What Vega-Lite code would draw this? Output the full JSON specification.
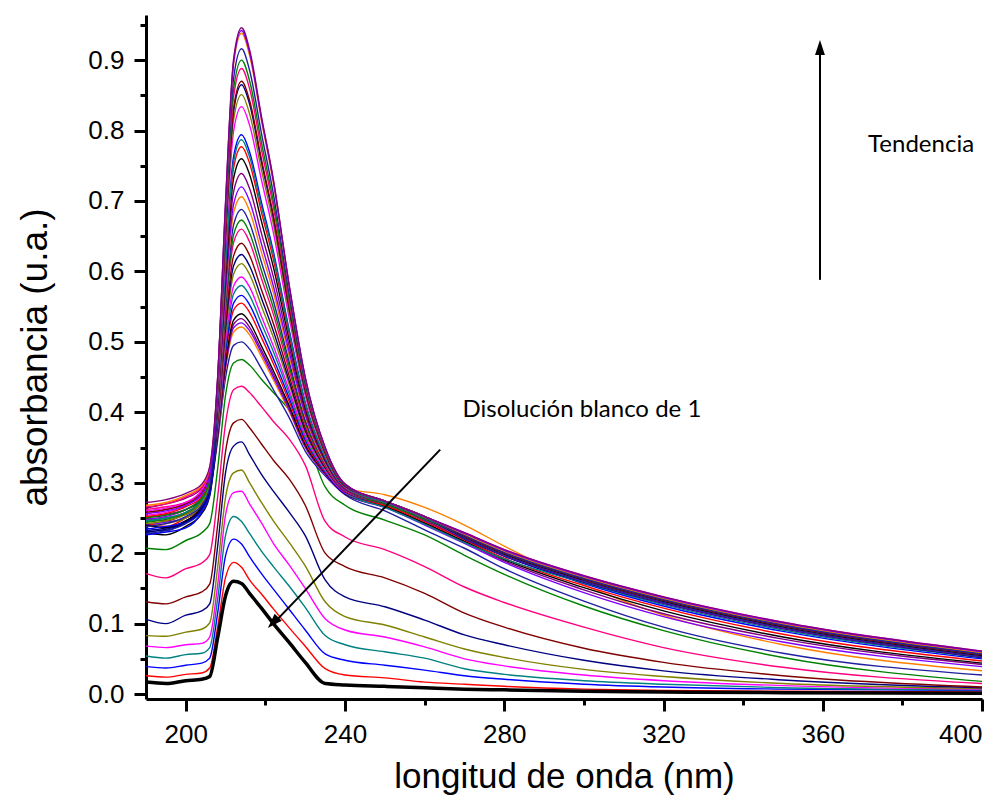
{
"$schema":"https://vega.github.io/schema/vega-lite/v6.json",
"width":836,"height":684,"autosize":"none",
"padding":{"left":146,"top":15,"right":26,"bottom":105},
"background":"white",
"config":{"view":{"stroke":null},"axis":{"domainColor":"black","tickColor":"black","domainWidth":3,"tickWidth":3,"labelColor":"black","titleColor":"black","labelFont":"Liberation Sans","titleFont":"Liberation Sans","labelFontSize":26,"titleFontSize":35,"titleFontWeight":"normal","grid":false}},
"datasets":{
"spec":[
{"c":1,"x":190,"y":0.017},{"c":1,"x":195,"y":0.015},{"c":1,"x":200,"y":0.019},{"c":1,"x":204,"y":0.021},{"c":1,"x":206,"y":0.025},{"c":1,"x":208,"y":0.080},{"c":1,"x":210,"y":0.140},{"c":1,"x":212,"y":0.160},{"c":1,"x":214,"y":0.157},{"c":1,"x":216,"y":0.143},{"c":1,"x":219,"y":0.122},{"c":1,"x":222,"y":0.100},{"c":1,"x":226,"y":0.073},{"c":1,"x":230,"y":0.045},{"c":1,"x":235,"y":0.015},{"c":1,"x":240,"y":0.013},{"c":1,"x":250,"y":0.011},{"c":1,"x":260,"y":0.009},{"c":1,"x":270,"y":0.007},{"c":1,"x":280,"y":0.006},{"c":1,"x":300,"y":0.004},{"c":1,"x":320,"y":0.003},{"c":1,"x":350,"y":0.002},{"c":1,"x":400,"y":0.001},
{"c":2,"x":190,"y":0.026},{"c":2,"x":195,"y":0.024},{"c":2,"x":200,"y":0.028},{"c":2,"x":204,"y":0.030},{"c":2,"x":206,"y":0.037},{"c":2,"x":208,"y":0.095},{"c":2,"x":210,"y":0.166},{"c":2,"x":212,"y":0.187},{"c":2,"x":214,"y":0.180},{"c":2,"x":216,"y":0.162},{"c":2,"x":219,"y":0.142},{"c":2,"x":222,"y":0.121},{"c":2,"x":226,"y":0.094},{"c":2,"x":230,"y":0.068},{"c":2,"x":235,"y":0.036},{"c":2,"x":240,"y":0.027},{"c":2,"x":250,"y":0.023},{"c":2,"x":260,"y":0.017},{"c":2,"x":270,"y":0.014},{"c":2,"x":280,"y":0.011},{"c":2,"x":300,"y":0.007},{"c":2,"x":320,"y":0.005},{"c":2,"x":350,"y":0.004},{"c":2,"x":400,"y":0.003},
{"c":3,"x":190,"y":0.039},{"c":3,"x":195,"y":0.037},{"c":3,"x":200,"y":0.041},{"c":3,"x":204,"y":0.044},{"c":3,"x":206,"y":0.051},{"c":3,"x":208,"y":0.115},{"c":3,"x":210,"y":0.197},{"c":3,"x":212,"y":0.220},{"c":3,"x":214,"y":0.213},{"c":3,"x":216,"y":0.195},{"c":3,"x":219,"y":0.171},{"c":3,"x":222,"y":0.149},{"c":3,"x":226,"y":0.120},{"c":3,"x":230,"y":0.091},{"c":3,"x":235,"y":0.057},{"c":3,"x":240,"y":0.048},{"c":3,"x":250,"y":0.041},{"c":3,"x":260,"y":0.034},{"c":3,"x":270,"y":0.026},{"c":3,"x":280,"y":0.021},{"c":3,"x":300,"y":0.014},{"c":3,"x":320,"y":0.010},{"c":3,"x":350,"y":0.007},{"c":3,"x":400,"y":0.005},
{"c":4,"x":190,"y":0.054},{"c":4,"x":195,"y":0.051},{"c":4,"x":200,"y":0.056},{"c":4,"x":204,"y":0.058},{"c":4,"x":206,"y":0.066},{"c":4,"x":208,"y":0.135},{"c":4,"x":210,"y":0.226},{"c":4,"x":212,"y":0.252},{"c":4,"x":214,"y":0.245},{"c":4,"x":216,"y":0.228},{"c":4,"x":219,"y":0.203},{"c":4,"x":222,"y":0.181},{"c":4,"x":226,"y":0.153},{"c":4,"x":230,"y":0.123},{"c":4,"x":235,"y":0.083},{"c":4,"x":240,"y":0.070},{"c":4,"x":250,"y":0.060},{"c":4,"x":260,"y":0.051},{"c":4,"x":270,"y":0.036},{"c":4,"x":280,"y":0.028},{"c":4,"x":300,"y":0.019},{"c":4,"x":320,"y":0.014},{"c":4,"x":350,"y":0.009},{"c":4,"x":400,"y":0.006},
{"c":5,"x":190,"y":0.068},{"c":5,"x":195,"y":0.066},{"c":5,"x":200,"y":0.070},{"c":5,"x":204,"y":0.072},{"c":5,"x":206,"y":0.081},{"c":5,"x":208,"y":0.155},{"c":5,"x":210,"y":0.255},{"c":5,"x":212,"y":0.286},{"c":5,"x":214,"y":0.288},{"c":5,"x":216,"y":0.270},{"c":5,"x":219,"y":0.243},{"c":5,"x":222,"y":0.214},{"c":5,"x":226,"y":0.183},{"c":5,"x":230,"y":0.150},{"c":5,"x":235,"y":0.107},{"c":5,"x":240,"y":0.091},{"c":5,"x":250,"y":0.081},{"c":5,"x":260,"y":0.067},{"c":5,"x":270,"y":0.050},{"c":5,"x":280,"y":0.040},{"c":5,"x":300,"y":0.027},{"c":5,"x":320,"y":0.019},{"c":5,"x":350,"y":0.012},{"c":5,"x":400,"y":0.007},
{"c":6,"x":190,"y":0.083},{"c":6,"x":195,"y":0.082},{"c":6,"x":200,"y":0.088},{"c":6,"x":204,"y":0.092},{"c":6,"x":206,"y":0.101},{"c":6,"x":208,"y":0.180},{"c":6,"x":210,"y":0.280},{"c":6,"x":212,"y":0.314},{"c":6,"x":214,"y":0.318},{"c":6,"x":216,"y":0.300},{"c":6,"x":219,"y":0.272},{"c":6,"x":222,"y":0.246},{"c":6,"x":226,"y":0.215},{"c":6,"x":230,"y":0.182},{"c":6,"x":235,"y":0.131},{"c":6,"x":240,"y":0.110},{"c":6,"x":250,"y":0.098},{"c":6,"x":260,"y":0.081},{"c":6,"x":270,"y":0.064},{"c":6,"x":280,"y":0.052},{"c":6,"x":300,"y":0.035},{"c":6,"x":320,"y":0.025},{"c":6,"x":350,"y":0.015},{"c":6,"x":400,"y":0.008},
{"c":7,"x":190,"y":0.106},{"c":7,"x":195,"y":0.100},{"c":7,"x":200,"y":0.112},{"c":7,"x":204,"y":0.118},{"c":7,"x":206,"y":0.128},{"c":7,"x":208,"y":0.210},{"c":7,"x":210,"y":0.315},{"c":7,"x":212,"y":0.352},{"c":7,"x":214,"y":0.358},{"c":7,"x":216,"y":0.340},{"c":7,"x":219,"y":0.312},{"c":7,"x":222,"y":0.288},{"c":7,"x":226,"y":0.258},{"c":7,"x":230,"y":0.225},{"c":7,"x":235,"y":0.162},{"c":7,"x":240,"y":0.138},{"c":7,"x":250,"y":0.124},{"c":7,"x":260,"y":0.105},{"c":7,"x":270,"y":0.084},{"c":7,"x":280,"y":0.070},{"c":7,"x":300,"y":0.048},{"c":7,"x":320,"y":0.033},{"c":7,"x":350,"y":0.020},{"c":7,"x":400,"y":0.009},
{"c":8,"x":190,"y":0.131},{"c":8,"x":195,"y":0.128},{"c":8,"x":200,"y":0.138},{"c":8,"x":204,"y":0.145},{"c":8,"x":206,"y":0.156},{"c":8,"x":208,"y":0.240},{"c":8,"x":210,"y":0.345},{"c":8,"x":212,"y":0.385},{"c":8,"x":214,"y":0.390},{"c":8,"x":216,"y":0.378},{"c":8,"x":219,"y":0.355},{"c":8,"x":222,"y":0.332},{"c":8,"x":226,"y":0.305},{"c":8,"x":230,"y":0.268},{"c":8,"x":235,"y":0.200},{"c":8,"x":240,"y":0.181},{"c":8,"x":250,"y":0.165},{"c":8,"x":260,"y":0.143},{"c":8,"x":270,"y":0.115},{"c":8,"x":280,"y":0.095},{"c":8,"x":300,"y":0.065},{"c":8,"x":320,"y":0.045},{"c":8,"x":350,"y":0.026},{"c":8,"x":400,"y":0.010},
{"c":9,"x":190,"y":0.171},{"c":9,"x":195,"y":0.165},{"c":9,"x":200,"y":0.178},{"c":9,"x":204,"y":0.186},{"c":9,"x":206,"y":0.198},{"c":9,"x":208,"y":0.280},{"c":9,"x":210,"y":0.385},{"c":9,"x":212,"y":0.432},{"c":9,"x":214,"y":0.437},{"c":9,"x":216,"y":0.428},{"c":9,"x":219,"y":0.408},{"c":9,"x":222,"y":0.387},{"c":9,"x":226,"y":0.362},{"c":9,"x":230,"y":0.325},{"c":9,"x":235,"y":0.245},{"c":9,"x":240,"y":0.223},{"c":9,"x":250,"y":0.205},{"c":9,"x":260,"y":0.181},{"c":9,"x":270,"y":0.152},{"c":9,"x":280,"y":0.130},{"c":9,"x":300,"y":0.095},{"c":9,"x":320,"y":0.066},{"c":9,"x":350,"y":0.038},{"c":9,"x":400,"y":0.015},
{"c":10,"x":190,"y":0.207},{"c":10,"x":195,"y":0.205},{"c":10,"x":200,"y":0.218},{"c":10,"x":204,"y":0.229},{"c":10,"x":206,"y":0.242},{"c":10,"x":208,"y":0.320},{"c":10,"x":210,"y":0.425},{"c":10,"x":212,"y":0.470},{"c":10,"x":214,"y":0.475},{"c":10,"x":216,"y":0.467},{"c":10,"x":219,"y":0.447},{"c":10,"x":222,"y":0.428},{"c":10,"x":226,"y":0.403},{"c":10,"x":230,"y":0.366},{"c":10,"x":235,"y":0.294},{"c":10,"x":240,"y":0.268},{"c":10,"x":250,"y":0.247},{"c":10,"x":260,"y":0.226},{"c":10,"x":270,"y":0.197},{"c":10,"x":280,"y":0.170},{"c":10,"x":300,"y":0.125},{"c":10,"x":320,"y":0.090},{"c":10,"x":350,"y":0.052},{"c":10,"x":400,"y":0.018},
{"c":11,"x":190,"y":0.236},{"c":11,"x":195,"y":0.232},{"c":11,"x":200,"y":0.245},{"c":11,"x":204,"y":0.262},{"c":11,"x":206,"y":0.287},{"c":11,"x":208,"y":0.360},{"c":11,"x":210,"y":0.450},{"c":11,"x":212,"y":0.495},{"c":11,"x":214,"y":0.500},{"c":11,"x":216,"y":0.490},{"c":11,"x":219,"y":0.462},{"c":11,"x":222,"y":0.432},{"c":11,"x":226,"y":0.392},{"c":11,"x":230,"y":0.345},{"c":11,"x":235,"y":0.310},{"c":11,"x":240,"y":0.283},{"c":11,"x":250,"y":0.260},{"c":11,"x":260,"y":0.233},{"c":11,"x":270,"y":0.207},{"c":11,"x":280,"y":0.178},{"c":11,"x":300,"y":0.132},{"c":11,"x":320,"y":0.095},{"c":11,"x":350,"y":0.058},{"c":11,"x":400,"y":0.027},
{"c":12,"x":190,"y":0.247},{"c":12,"x":195,"y":0.250},{"c":12,"x":200,"y":0.258},{"c":12,"x":204,"y":0.270},{"c":12,"x":206,"y":0.295},{"c":12,"x":208,"y":0.364},{"c":12,"x":210,"y":0.462},{"c":12,"x":212,"y":0.514},{"c":12,"x":214,"y":0.521},{"c":12,"x":216,"y":0.510},{"c":12,"x":219,"y":0.479},{"c":12,"x":222,"y":0.446},{"c":12,"x":226,"y":0.401},{"c":12,"x":230,"y":0.350},{"c":12,"x":235,"y":0.312},{"c":12,"x":240,"y":0.292},{"c":12,"x":250,"y":0.283},{"c":12,"x":260,"y":0.265},{"c":12,"x":270,"y":0.240},{"c":12,"x":280,"y":0.210},{"c":12,"x":300,"y":0.155},{"c":12,"x":320,"y":0.112},{"c":12,"x":350,"y":0.070},{"c":12,"x":400,"y":0.033},
{"c":13,"x":190,"y":0.240},{"c":13,"x":195,"y":0.244},{"c":13,"x":200,"y":0.250},{"c":13,"x":204,"y":0.268},{"c":13,"x":206,"y":0.293},{"c":13,"x":208,"y":0.365},{"c":13,"x":210,"y":0.465},{"c":13,"x":212,"y":0.520},{"c":13,"x":214,"y":0.527},{"c":13,"x":216,"y":0.516},{"c":13,"x":219,"y":0.484},{"c":13,"x":222,"y":0.450},{"c":13,"x":226,"y":0.403},{"c":13,"x":230,"y":0.351},{"c":13,"x":235,"y":0.312},{"c":13,"x":240,"y":0.284},{"c":13,"x":250,"y":0.265},{"c":13,"x":260,"y":0.240},{"c":13,"x":270,"y":0.214},{"c":13,"x":280,"y":0.187},{"c":13,"x":300,"y":0.144},{"c":13,"x":320,"y":0.110},{"c":13,"x":350,"y":0.074},{"c":13,"x":400,"y":0.039},
{"c":14,"x":190,"y":0.251},{"c":14,"x":195,"y":0.255},{"c":14,"x":200,"y":0.262},{"c":14,"x":204,"y":0.275},{"c":14,"x":206,"y":0.300},{"c":14,"x":208,"y":0.367},{"c":14,"x":210,"y":0.468},{"c":14,"x":212,"y":0.525},{"c":14,"x":214,"y":0.533},{"c":14,"x":216,"y":0.521},{"c":14,"x":219,"y":0.488},{"c":14,"x":222,"y":0.454},{"c":14,"x":226,"y":0.406},{"c":14,"x":230,"y":0.353},{"c":14,"x":235,"y":0.313},{"c":14,"x":240,"y":0.284},{"c":14,"x":250,"y":0.266},{"c":14,"x":260,"y":0.242},{"c":14,"x":270,"y":0.216},{"c":14,"x":280,"y":0.189},{"c":14,"x":300,"y":0.148},{"c":14,"x":320,"y":0.114},{"c":14,"x":350,"y":0.078},{"c":14,"x":400,"y":0.042},
{"c":15,"x":190,"y":0.229},{"c":15,"x":195,"y":0.226},{"c":15,"x":200,"y":0.238},{"c":15,"x":204,"y":0.256},{"c":15,"x":206,"y":0.281},{"c":15,"x":208,"y":0.368},{"c":15,"x":210,"y":0.472},{"c":15,"x":212,"y":0.531},{"c":15,"x":214,"y":0.540},{"c":15,"x":216,"y":0.528},{"c":15,"x":219,"y":0.494},{"c":15,"x":222,"y":0.459},{"c":15,"x":226,"y":0.409},{"c":15,"x":230,"y":0.354},{"c":15,"x":235,"y":0.314},{"c":15,"x":240,"y":0.284},{"c":15,"x":250,"y":0.267},{"c":15,"x":260,"y":0.243},{"c":15,"x":270,"y":0.217},{"c":15,"x":280,"y":0.191},{"c":15,"x":300,"y":0.151},{"c":15,"x":320,"y":0.118},{"c":15,"x":350,"y":0.081},{"c":15,"x":400,"y":0.044},
{"c":16,"x":190,"y":0.243},{"c":16,"x":195,"y":0.238},{"c":16,"x":200,"y":0.250},{"c":16,"x":204,"y":0.265},{"c":16,"x":206,"y":0.290},{"c":16,"x":208,"y":0.371},{"c":16,"x":210,"y":0.481},{"c":16,"x":212,"y":0.545},{"c":16,"x":214,"y":0.555},{"c":16,"x":216,"y":0.542},{"c":16,"x":219,"y":0.506},{"c":16,"x":222,"y":0.469},{"c":16,"x":226,"y":0.415},{"c":16,"x":230,"y":0.358},{"c":16,"x":235,"y":0.315},{"c":16,"x":240,"y":0.285},{"c":16,"x":250,"y":0.268},{"c":16,"x":260,"y":0.245},{"c":16,"x":270,"y":0.219},{"c":16,"x":280,"y":0.193},{"c":16,"x":300,"y":0.154},{"c":16,"x":320,"y":0.122},{"c":16,"x":350,"y":0.085},{"c":16,"x":400,"y":0.047},
{"c":17,"x":190,"y":0.226},{"c":17,"x":195,"y":0.230},{"c":17,"x":200,"y":0.236},{"c":17,"x":204,"y":0.258},{"c":17,"x":206,"y":0.283},{"c":17,"x":208,"y":0.373},{"c":17,"x":210,"y":0.487},{"c":17,"x":212,"y":0.555},{"c":17,"x":214,"y":0.566},{"c":17,"x":216,"y":0.553},{"c":17,"x":219,"y":0.515},{"c":17,"x":222,"y":0.476},{"c":17,"x":226,"y":0.420},{"c":17,"x":230,"y":0.361},{"c":17,"x":235,"y":0.316},{"c":17,"x":240,"y":0.285},{"c":17,"x":250,"y":0.270},{"c":17,"x":260,"y":0.247},{"c":17,"x":270,"y":0.221},{"c":17,"x":280,"y":0.196},{"c":17,"x":300,"y":0.157},{"c":17,"x":320,"y":0.125},{"c":17,"x":350,"y":0.089},{"c":17,"x":400,"y":0.050},
{"c":18,"x":190,"y":0.245},{"c":18,"x":195,"y":0.250},{"c":18,"x":200,"y":0.255},{"c":18,"x":204,"y":0.272},{"c":18,"x":206,"y":0.297},{"c":18,"x":208,"y":0.376},{"c":18,"x":210,"y":0.495},{"c":18,"x":212,"y":0.568},{"c":18,"x":214,"y":0.580},{"c":18,"x":216,"y":0.566},{"c":18,"x":219,"y":0.526},{"c":18,"x":222,"y":0.486},{"c":18,"x":226,"y":0.426},{"c":18,"x":230,"y":0.364},{"c":18,"x":235,"y":0.317},{"c":18,"x":240,"y":0.286},{"c":18,"x":250,"y":0.265},{"c":18,"x":260,"y":0.241},{"c":18,"x":270,"y":0.215},{"c":18,"x":280,"y":0.192},{"c":18,"x":300,"y":0.158},{"c":18,"x":320,"y":0.127},{"c":18,"x":350,"y":0.091},{"c":18,"x":400,"y":0.052},
{"c":19,"x":190,"y":0.254},{"c":19,"x":195,"y":0.258},{"c":19,"x":200,"y":0.268},{"c":19,"x":204,"y":0.283},{"c":19,"x":206,"y":0.308},{"c":19,"x":208,"y":0.379},{"c":19,"x":210,"y":0.502},{"c":19,"x":212,"y":0.579},{"c":19,"x":214,"y":0.592},{"c":19,"x":216,"y":0.578},{"c":19,"x":219,"y":0.536},{"c":19,"x":222,"y":0.494},{"c":19,"x":226,"y":0.431},{"c":19,"x":230,"y":0.367},{"c":19,"x":235,"y":0.318},{"c":19,"x":240,"y":0.286},{"c":19,"x":250,"y":0.271},{"c":19,"x":260,"y":0.248},{"c":19,"x":270,"y":0.222},{"c":19,"x":280,"y":0.198},{"c":19,"x":300,"y":0.160},{"c":19,"x":320,"y":0.129},{"c":19,"x":350,"y":0.093},{"c":19,"x":400,"y":0.053},
{"c":20,"x":190,"y":0.238},{"c":20,"x":195,"y":0.242},{"c":20,"x":200,"y":0.250},{"c":20,"x":204,"y":0.268},{"c":20,"x":206,"y":0.293},{"c":20,"x":208,"y":0.382},{"c":20,"x":210,"y":0.512},{"c":20,"x":212,"y":0.596},{"c":20,"x":214,"y":0.611},{"c":20,"x":216,"y":0.596},{"c":20,"x":219,"y":0.551},{"c":20,"x":222,"y":0.506},{"c":20,"x":226,"y":0.439},{"c":20,"x":230,"y":0.371},{"c":20,"x":235,"y":0.320},{"c":20,"x":240,"y":0.287},{"c":20,"x":250,"y":0.271},{"c":20,"x":260,"y":0.249},{"c":20,"x":270,"y":0.223},{"c":20,"x":280,"y":0.199},{"c":20,"x":300,"y":0.161},{"c":20,"x":320,"y":0.131},{"c":20,"x":350,"y":0.095},{"c":20,"x":400,"y":0.055},
{"c":21,"x":190,"y":0.232},{"c":21,"x":195,"y":0.236},{"c":21,"x":200,"y":0.246},{"c":21,"x":204,"y":0.262},{"c":21,"x":206,"y":0.287},{"c":21,"x":208,"y":0.385},{"c":21,"x":210,"y":0.520},{"c":21,"x":212,"y":0.608},{"c":21,"x":214,"y":0.624},{"c":21,"x":216,"y":0.608},{"c":21,"x":219,"y":0.562},{"c":21,"x":222,"y":0.515},{"c":21,"x":226,"y":0.444},{"c":21,"x":230,"y":0.374},{"c":21,"x":235,"y":0.321},{"c":21,"x":240,"y":0.287},{"c":21,"x":250,"y":0.270},{"c":21,"x":260,"y":0.248},{"c":21,"x":270,"y":0.220},{"c":21,"x":280,"y":0.196},{"c":21,"x":300,"y":0.159},{"c":21,"x":320,"y":0.129},{"c":21,"x":350,"y":0.093},{"c":21,"x":400,"y":0.052},
{"c":22,"x":190,"y":0.250},{"c":22,"x":195,"y":0.246},{"c":22,"x":200,"y":0.256},{"c":22,"x":204,"y":0.272},{"c":22,"x":206,"y":0.297},{"c":22,"x":208,"y":0.388},{"c":22,"x":210,"y":0.528},{"c":22,"x":212,"y":0.622},{"c":22,"x":214,"y":0.640},{"c":22,"x":216,"y":0.623},{"c":22,"x":219,"y":0.574},{"c":22,"x":222,"y":0.526},{"c":22,"x":226,"y":0.451},{"c":22,"x":230,"y":0.378},{"c":22,"x":235,"y":0.323},{"c":22,"x":240,"y":0.288},{"c":22,"x":250,"y":0.270},{"c":22,"x":260,"y":0.248},{"c":22,"x":270,"y":0.223},{"c":22,"x":280,"y":0.199},{"c":22,"x":300,"y":0.162},{"c":22,"x":320,"y":0.132},{"c":22,"x":350,"y":0.096},{"c":22,"x":400,"y":0.055},
{"c":23,"x":190,"y":0.262},{"c":23,"x":195,"y":0.266},{"c":23,"x":200,"y":0.272},{"c":23,"x":204,"y":0.287},{"c":23,"x":206,"y":0.312},{"c":23,"x":208,"y":0.392},{"c":23,"x":210,"y":0.540},{"c":23,"x":212,"y":0.641},{"c":23,"x":214,"y":0.660},{"c":23,"x":216,"y":0.642},{"c":23,"x":219,"y":0.590},{"c":23,"x":222,"y":0.539},{"c":23,"x":226,"y":0.459},{"c":23,"x":230,"y":0.383},{"c":23,"x":235,"y":0.324},{"c":23,"x":240,"y":0.288},{"c":23,"x":250,"y":0.270},{"c":23,"x":260,"y":0.248},{"c":23,"x":270,"y":0.221},{"c":23,"x":280,"y":0.197},{"c":23,"x":300,"y":0.160},{"c":23,"x":320,"y":0.130},{"c":23,"x":350,"y":0.094},{"c":23,"x":400,"y":0.053},
{"c":24,"x":190,"y":0.244},{"c":24,"x":195,"y":0.248},{"c":24,"x":200,"y":0.258},{"c":24,"x":204,"y":0.276},{"c":24,"x":206,"y":0.301},{"c":24,"x":208,"y":0.395},{"c":24,"x":210,"y":0.547},{"c":24,"x":212,"y":0.652},{"c":24,"x":214,"y":0.673},{"c":24,"x":216,"y":0.655},{"c":24,"x":219,"y":0.601},{"c":24,"x":222,"y":0.548},{"c":24,"x":226,"y":0.465},{"c":24,"x":230,"y":0.386},{"c":24,"x":235,"y":0.326},{"c":24,"x":240,"y":0.289},{"c":24,"x":250,"y":0.270},{"c":24,"x":260,"y":0.248},{"c":24,"x":270,"y":0.224},{"c":24,"x":280,"y":0.200},{"c":24,"x":300,"y":0.163},{"c":24,"x":320,"y":0.133},{"c":24,"x":350,"y":0.097},{"c":24,"x":400,"y":0.056},
{"c":25,"x":190,"y":0.228},{"c":25,"x":195,"y":0.232},{"c":25,"x":200,"y":0.242},{"c":25,"x":204,"y":0.260},{"c":25,"x":206,"y":0.285},{"c":25,"x":208,"y":0.398},{"c":25,"x":210,"y":0.555},{"c":25,"x":212,"y":0.666},{"c":25,"x":214,"y":0.688},{"c":25,"x":216,"y":0.669},{"c":25,"x":219,"y":0.613},{"c":25,"x":222,"y":0.558},{"c":25,"x":226,"y":0.471},{"c":25,"x":230,"y":0.389},{"c":25,"x":235,"y":0.327},{"c":25,"x":240,"y":0.289},{"c":25,"x":250,"y":0.272},{"c":25,"x":260,"y":0.250},{"c":25,"x":270,"y":0.221},{"c":25,"x":280,"y":0.197},{"c":25,"x":300,"y":0.160},{"c":25,"x":320,"y":0.130},{"c":25,"x":350,"y":0.094},{"c":25,"x":400,"y":0.053},
{"c":26,"x":190,"y":0.256},{"c":26,"x":195,"y":0.262},{"c":26,"x":200,"y":0.270},{"c":26,"x":204,"y":0.285},{"c":26,"x":206,"y":0.310},{"c":26,"x":208,"y":0.402},{"c":26,"x":210,"y":0.565},{"c":26,"x":212,"y":0.683},{"c":26,"x":214,"y":0.706},{"c":26,"x":216,"y":0.686},{"c":26,"x":219,"y":0.627},{"c":26,"x":222,"y":0.570},{"c":26,"x":226,"y":0.479},{"c":26,"x":230,"y":0.394},{"c":26,"x":235,"y":0.328},{"c":26,"x":240,"y":0.290},{"c":26,"x":250,"y":0.272},{"c":26,"x":260,"y":0.250},{"c":26,"x":270,"y":0.227},{"c":26,"x":280,"y":0.203},{"c":26,"x":300,"y":0.166},{"c":26,"x":320,"y":0.136},{"c":26,"x":350,"y":0.100},{"c":26,"x":400,"y":0.059},
{"c":27,"x":190,"y":0.248},{"c":27,"x":195,"y":0.252},{"c":27,"x":200,"y":0.262},{"c":27,"x":204,"y":0.280},{"c":27,"x":206,"y":0.305},{"c":27,"x":208,"y":0.404},{"c":27,"x":210,"y":0.573},{"c":27,"x":212,"y":0.695},{"c":27,"x":214,"y":0.720},{"c":27,"x":216,"y":0.700},{"c":27,"x":219,"y":0.639},{"c":27,"x":222,"y":0.579},{"c":27,"x":226,"y":0.485},{"c":27,"x":230,"y":0.397},{"c":27,"x":235,"y":0.330},{"c":27,"x":240,"y":0.290},{"c":27,"x":250,"y":0.272},{"c":27,"x":260,"y":0.250},{"c":27,"x":270,"y":0.224},{"c":27,"x":280,"y":0.200},{"c":27,"x":300,"y":0.163},{"c":27,"x":320,"y":0.133},{"c":27,"x":350,"y":0.097},{"c":27,"x":400,"y":0.056},
{"c":28,"x":190,"y":0.264},{"c":28,"x":195,"y":0.270},{"c":28,"x":200,"y":0.278},{"c":28,"x":204,"y":0.292},{"c":28,"x":206,"y":0.317},{"c":28,"x":208,"y":0.408},{"c":28,"x":210,"y":0.584},{"c":28,"x":212,"y":0.713},{"c":28,"x":214,"y":0.739},{"c":28,"x":216,"y":0.718},{"c":28,"x":219,"y":0.654},{"c":28,"x":222,"y":0.592},{"c":28,"x":226,"y":0.493},{"c":28,"x":230,"y":0.401},{"c":28,"x":235,"y":0.331},{"c":28,"x":240,"y":0.291},{"c":28,"x":250,"y":0.272},{"c":28,"x":260,"y":0.250},{"c":28,"x":270,"y":0.226},{"c":28,"x":280,"y":0.202},{"c":28,"x":300,"y":0.165},{"c":28,"x":320,"y":0.135},{"c":28,"x":350,"y":0.099},{"c":28,"x":400,"y":0.058},
{"c":29,"x":190,"y":0.240},{"c":29,"x":195,"y":0.236},{"c":29,"x":200,"y":0.246},{"c":29,"x":204,"y":0.266},{"c":29,"x":206,"y":0.291},{"c":29,"x":208,"y":0.412},{"c":29,"x":210,"y":0.596},{"c":29,"x":212,"y":0.732},{"c":29,"x":214,"y":0.760},{"c":29,"x":216,"y":0.738},{"c":29,"x":219,"y":0.671},{"c":29,"x":222,"y":0.606},{"c":29,"x":226,"y":0.502},{"c":29,"x":230,"y":0.406},{"c":29,"x":235,"y":0.333},{"c":29,"x":240,"y":0.292},{"c":29,"x":250,"y":0.272},{"c":29,"x":260,"y":0.250},{"c":29,"x":270,"y":0.223},{"c":29,"x":280,"y":0.199},{"c":29,"x":300,"y":0.162},{"c":29,"x":320,"y":0.132},{"c":29,"x":350,"y":0.096},{"c":29,"x":400,"y":0.055},
{"c":30,"x":190,"y":0.252},{"c":30,"x":195,"y":0.256},{"c":30,"x":200,"y":0.266},{"c":30,"x":204,"y":0.280},{"c":30,"x":206,"y":0.305},{"c":30,"x":208,"y":0.416},{"c":30,"x":210,"y":0.605},{"c":30,"x":212,"y":0.747},{"c":30,"x":214,"y":0.777},{"c":30,"x":216,"y":0.754},{"c":30,"x":219,"y":0.684},{"c":30,"x":222,"y":0.617},{"c":30,"x":226,"y":0.509},{"c":30,"x":230,"y":0.410},{"c":30,"x":235,"y":0.335},{"c":30,"x":240,"y":0.292},{"c":30,"x":250,"y":0.272},{"c":30,"x":260,"y":0.250},{"c":30,"x":270,"y":0.225},{"c":30,"x":280,"y":0.201},{"c":30,"x":300,"y":0.164},{"c":30,"x":320,"y":0.134},{"c":30,"x":350,"y":0.098},{"c":30,"x":400,"y":0.057},
{"c":31,"x":190,"y":0.234},{"c":31,"x":195,"y":0.238},{"c":31,"x":200,"y":0.244},{"c":31,"x":204,"y":0.262},{"c":31,"x":206,"y":0.287},{"c":31,"x":208,"y":0.419},{"c":31,"x":210,"y":0.615},{"c":31,"x":212,"y":0.763},{"c":31,"x":214,"y":0.794},{"c":31,"x":216,"y":0.770},{"c":31,"x":219,"y":0.698},{"c":31,"x":222,"y":0.628},{"c":31,"x":226,"y":0.516},{"c":31,"x":230,"y":0.414},{"c":31,"x":235,"y":0.336},{"c":31,"x":240,"y":0.293},{"c":31,"x":250,"y":0.274},{"c":31,"x":260,"y":0.252},{"c":31,"x":270,"y":0.224},{"c":31,"x":280,"y":0.200},{"c":31,"x":300,"y":0.163},{"c":31,"x":320,"y":0.133},{"c":31,"x":350,"y":0.097},{"c":31,"x":400,"y":0.056},
{"c":32,"x":190,"y":0.246},{"c":32,"x":195,"y":0.250},{"c":32,"x":200,"y":0.258},{"c":32,"x":204,"y":0.274},{"c":32,"x":206,"y":0.299},{"c":32,"x":208,"y":0.418},{"c":32,"x":210,"y":0.611},{"c":32,"x":212,"y":0.756},{"c":32,"x":214,"y":0.787},{"c":32,"x":216,"y":0.763},{"c":32,"x":219,"y":0.692},{"c":32,"x":222,"y":0.624},{"c":32,"x":226,"y":0.513},{"c":32,"x":230,"y":0.413},{"c":32,"x":235,"y":0.336},{"c":32,"x":240,"y":0.293},{"c":32,"x":250,"y":0.272},{"c":32,"x":260,"y":0.250},{"c":32,"x":270,"y":0.224},{"c":32,"x":280,"y":0.200},{"c":32,"x":300,"y":0.163},{"c":32,"x":320,"y":0.133},{"c":32,"x":350,"y":0.097},{"c":32,"x":400,"y":0.056},
{"c":33,"x":190,"y":0.260},{"c":33,"x":195,"y":0.264},{"c":33,"x":200,"y":0.272},{"c":33,"x":204,"y":0.290},{"c":33,"x":206,"y":0.315},{"c":33,"x":208,"y":0.427},{"c":33,"x":210,"y":0.637},{"c":33,"x":212,"y":0.799},{"c":33,"x":214,"y":0.834},{"c":33,"x":216,"y":0.808},{"c":33,"x":219,"y":0.730},{"c":33,"x":222,"y":0.655},{"c":33,"x":226,"y":0.533},{"c":33,"x":230,"y":0.424},{"c":33,"x":235,"y":0.340},{"c":33,"x":240,"y":0.294},{"c":33,"x":250,"y":0.274},{"c":33,"x":260,"y":0.252},{"c":33,"x":270,"y":0.229},{"c":33,"x":280,"y":0.205},{"c":33,"x":300,"y":0.168},{"c":33,"x":320,"y":0.138},{"c":33,"x":350,"y":0.102},{"c":33,"x":400,"y":0.061},
{"c":34,"x":190,"y":0.242},{"c":34,"x":195,"y":0.246},{"c":34,"x":200,"y":0.255},{"c":34,"x":204,"y":0.272},{"c":34,"x":206,"y":0.297},{"c":34,"x":208,"y":0.431},{"c":34,"x":210,"y":0.647},{"c":34,"x":212,"y":0.815},{"c":34,"x":214,"y":0.851},{"c":34,"x":216,"y":0.824},{"c":34,"x":219,"y":0.744},{"c":34,"x":222,"y":0.667},{"c":34,"x":226,"y":0.540},{"c":34,"x":230,"y":0.428},{"c":34,"x":235,"y":0.341},{"c":34,"x":240,"y":0.295},{"c":34,"x":250,"y":0.274},{"c":34,"x":260,"y":0.252},{"c":34,"x":270,"y":0.225},{"c":34,"x":280,"y":0.201},{"c":34,"x":300,"y":0.164},{"c":34,"x":320,"y":0.134},{"c":34,"x":350,"y":0.098},{"c":34,"x":400,"y":0.057},
{"c":35,"x":190,"y":0.230},{"c":35,"x":195,"y":0.234},{"c":35,"x":200,"y":0.244},{"c":35,"x":204,"y":0.264},{"c":35,"x":206,"y":0.289},{"c":35,"x":208,"y":0.434},{"c":35,"x":210,"y":0.655},{"c":35,"x":212,"y":0.827},{"c":35,"x":214,"y":0.865},{"c":35,"x":216,"y":0.838},{"c":35,"x":219,"y":0.755},{"c":35,"x":222,"y":0.676},{"c":35,"x":226,"y":0.546},{"c":35,"x":230,"y":0.431},{"c":35,"x":235,"y":0.343},{"c":35,"x":240,"y":0.295},{"c":35,"x":250,"y":0.274},{"c":35,"x":260,"y":0.252},{"c":35,"x":270,"y":0.227},{"c":35,"x":280,"y":0.203},{"c":35,"x":300,"y":0.166},{"c":35,"x":320,"y":0.136},{"c":35,"x":350,"y":0.100},{"c":35,"x":400,"y":0.059},
{"c":36,"x":190,"y":0.258},{"c":36,"x":195,"y":0.262},{"c":36,"x":200,"y":0.270},{"c":36,"x":204,"y":0.286},{"c":36,"x":206,"y":0.311},{"c":36,"x":208,"y":0.435},{"c":36,"x":210,"y":0.657},{"c":36,"x":212,"y":0.832},{"c":36,"x":214,"y":0.870},{"c":36,"x":216,"y":0.843},{"c":36,"x":219,"y":0.759},{"c":36,"x":222,"y":0.679},{"c":36,"x":226,"y":0.548},{"c":36,"x":230,"y":0.432},{"c":36,"x":235,"y":0.343},{"c":36,"x":240,"y":0.295},{"c":36,"x":250,"y":0.274},{"c":36,"x":260,"y":0.252},{"c":36,"x":270,"y":0.224},{"c":36,"x":280,"y":0.200},{"c":36,"x":300,"y":0.163},{"c":36,"x":320,"y":0.133},{"c":36,"x":350,"y":0.097},{"c":36,"x":400,"y":0.056},
{"c":37,"x":190,"y":0.266},{"c":37,"x":195,"y":0.270},{"c":37,"x":200,"y":0.280},{"c":37,"x":204,"y":0.294},{"c":37,"x":206,"y":0.319},{"c":37,"x":208,"y":0.438},{"c":37,"x":210,"y":0.667},{"c":37,"x":212,"y":0.848},{"c":37,"x":214,"y":0.888},{"c":37,"x":216,"y":0.860},{"c":37,"x":219,"y":0.773},{"c":37,"x":222,"y":0.691},{"c":37,"x":226,"y":0.556},{"c":37,"x":230,"y":0.436},{"c":37,"x":235,"y":0.345},{"c":37,"x":240,"y":0.296},{"c":37,"x":250,"y":0.274},{"c":37,"x":260,"y":0.252},{"c":37,"x":270,"y":0.228},{"c":37,"x":280,"y":0.204},{"c":37,"x":300,"y":0.167},{"c":37,"x":320,"y":0.137},{"c":37,"x":350,"y":0.101},{"c":37,"x":400,"y":0.060},
{"c":38,"x":190,"y":0.250},{"c":38,"x":195,"y":0.254},{"c":38,"x":200,"y":0.262},{"c":38,"x":204,"y":0.278},{"c":38,"x":206,"y":0.303},{"c":38,"x":208,"y":0.441},{"c":38,"x":210,"y":0.674},{"c":38,"x":212,"y":0.859},{"c":38,"x":214,"y":0.900},{"c":38,"x":216,"y":0.871},{"c":38,"x":219,"y":0.783},{"c":38,"x":222,"y":0.699},{"c":38,"x":226,"y":0.561},{"c":38,"x":230,"y":0.439},{"c":38,"x":235,"y":0.346},{"c":38,"x":240,"y":0.296},{"c":38,"x":250,"y":0.274},{"c":38,"x":260,"y":0.252},{"c":38,"x":270,"y":0.226},{"c":38,"x":280,"y":0.202},{"c":38,"x":300,"y":0.165},{"c":38,"x":320,"y":0.135},{"c":38,"x":350,"y":0.099},{"c":38,"x":400,"y":0.058},
{"c":39,"x":190,"y":0.238},{"c":39,"x":195,"y":0.242},{"c":39,"x":200,"y":0.252},{"c":39,"x":204,"y":0.268},{"c":39,"x":206,"y":0.293},{"c":39,"x":208,"y":0.444},{"c":39,"x":210,"y":0.683},{"c":39,"x":212,"y":0.874},{"c":39,"x":214,"y":0.916},{"c":39,"x":216,"y":0.886},{"c":39,"x":219,"y":0.796},{"c":39,"x":222,"y":0.710},{"c":39,"x":226,"y":0.567},{"c":39,"x":230,"y":0.443},{"c":39,"x":235,"y":0.347},{"c":39,"x":240,"y":0.297},{"c":39,"x":250,"y":0.274},{"c":39,"x":260,"y":0.252},{"c":39,"x":270,"y":0.225},{"c":39,"x":280,"y":0.201},{"c":39,"x":300,"y":0.164},{"c":39,"x":320,"y":0.134},{"c":39,"x":350,"y":0.098},{"c":39,"x":400,"y":0.057},
{"c":40,"x":190,"y":0.268},{"c":40,"x":195,"y":0.272},{"c":40,"x":200,"y":0.282},{"c":40,"x":204,"y":0.296},{"c":40,"x":206,"y":0.321},{"c":40,"x":208,"y":0.448},{"c":40,"x":210,"y":0.695},{"c":40,"x":212,"y":0.894},{"c":40,"x":214,"y":0.938},{"c":40,"x":216,"y":0.907},{"c":40,"x":219,"y":0.814},{"c":40,"x":222,"y":0.725},{"c":40,"x":226,"y":0.577},{"c":40,"x":230,"y":0.448},{"c":40,"x":235,"y":0.349},{"c":40,"x":240,"y":0.298},{"c":40,"x":250,"y":0.274},{"c":40,"x":260,"y":0.252},{"c":40,"x":270,"y":0.227},{"c":40,"x":280,"y":0.203},{"c":40,"x":300,"y":0.166},{"c":40,"x":320,"y":0.136},{"c":40,"x":350,"y":0.100},{"c":40,"x":400,"y":0.059},
{"c":41,"x":190,"y":0.256},{"c":41,"x":195,"y":0.260},{"c":41,"x":200,"y":0.268},{"c":41,"x":204,"y":0.284},{"c":41,"x":206,"y":0.309},{"c":41,"x":208,"y":0.449},{"c":41,"x":210,"y":0.698},{"c":41,"x":212,"y":0.897},{"c":41,"x":214,"y":0.942},{"c":41,"x":216,"y":0.911},{"c":41,"x":219,"y":0.817},{"c":41,"x":222,"y":0.729},{"c":41,"x":226,"y":0.578},{"c":41,"x":230,"y":0.449},{"c":41,"x":235,"y":0.350},{"c":41,"x":240,"y":0.298},{"c":41,"x":250,"y":0.274},{"c":41,"x":260,"y":0.252},{"c":41,"x":270,"y":0.228},{"c":41,"x":280,"y":0.204},{"c":41,"x":300,"y":0.167},{"c":41,"x":320,"y":0.137},{"c":41,"x":350,"y":0.101},{"c":41,"x":400,"y":0.060},
{"c":42,"x":190,"y":0.272},{"c":42,"x":195,"y":0.276},{"c":42,"x":200,"y":0.285},{"c":42,"x":204,"y":0.298},{"c":42,"x":206,"y":0.323},{"c":42,"x":208,"y":0.450},{"c":42,"x":210,"y":0.700},{"c":42,"x":212,"y":0.901},{"c":42,"x":214,"y":0.946},{"c":42,"x":216,"y":0.915},{"c":42,"x":219,"y":0.820},{"c":42,"x":222,"y":0.730},{"c":42,"x":226,"y":0.580},{"c":42,"x":230,"y":0.450},{"c":42,"x":235,"y":0.350},{"c":42,"x":240,"y":0.298},{"c":42,"x":250,"y":0.274},{"c":42,"x":260,"y":0.252},{"c":42,"x":270,"y":0.229},{"c":42,"x":280,"y":0.205},{"c":42,"x":300,"y":0.168},{"c":42,"x":320,"y":0.138},{"c":42,"x":350,"y":0.102},{"c":42,"x":400,"y":0.061}
],
"arrows":[{"x":359.3,"y":0.588,"x2":359.3,"y2":0.91},{"x":263.9,"y":0.347,"x2":223,"y2":0.106}],
"head1":[{"x":359.3,"y":0.9285}],
"head2":[{"x":220.6,"y":0.0938}],
"labels":[{"t":"Tendencia","x":384.7,"y":0.779},{"t":"Disolución blanco de 1","x":299.5,"y":0.403}]
},
"resolve":{"axis":{"x":"independent","y":"independent"}},
"layer":[
{"data":{"name":"spec"},"transform":[{"filter":"datum.c > 1"}],
"mark":{"type":"line","interpolate":"monotone","strokeWidth":1.4},
"encoding":{
"x":{"field":"x","type":"quantitative","scale":{"domain":[190,400],"nice":false,"zero":false},"axis":{"values":[200,240,280,320,360,400],"tickSize":12,"labelPadding":10,"title":"longitud de onda (nm)","titlePadding":12}},
"y":{"field":"y","type":"quantitative","scale":{"domain":[-0.007,0.964],"nice":false,"zero":false},"axis":{"values":[0,0.1,0.2,0.3,0.4,0.5,0.6,0.7,0.8,0.9],"format":".1f","tickSize":12,"labelPadding":10,"title":"absorbancia (u.a.)","titleFontSize":37,"titlePadding":33}},
"color":{"field":"c","type":"nominal","legend":null,"scale":{"domain":[1,2,3,4,5,6,7,8,9,10,11,12,13,14,15,16,17,18,19,20,21,22,23,24,25,26,27,28,29,30,31,32,33,34,35,36,37,38,39,40,41,42],"range":["#000000","#FF0000","#0000FF","#008080","#FF00FF","#808000","#000080","#800000","#FF0080","#008000","#2020A0","#FF8000","#8000FF","#800080","#000000","#FF0000","#0000FF","#008080","#FF00FF","#808000","#000080","#800000","#FF0080","#008000","#2020A0","#FF8000","#8000FF","#800080","#000000","#FF0000","#0000FF","#008080","#FF00FF","#808000","#000080","#800000","#FF0080","#008000","#2020A0","#FF8000","#8000FF","#800080"]}}
}},
{"data":{"name":"spec"},"transform":[{"filter":"datum.c == 1"}],
"mark":{"type":"line","interpolate":"monotone","strokeWidth":3.5,"color":"black"},
"encoding":{
"x":{"field":"x","type":"quantitative","scale":{"domain":[190,400],"nice":false,"zero":false},"axis":null},
"y":{"field":"y","type":"quantitative","scale":{"domain":[-0.007,0.964],"nice":false,"zero":false},"axis":null}
}},
{"data":{"name":"arrows"},
"mark":{"type":"rule","strokeWidth":2,"color":"black"},
"encoding":{
"x":{"field":"x","type":"quantitative","scale":{"domain":[190,400],"nice":false,"zero":false},"axis":{"values":[220,260,300,340,380],"tickSize":6,"labels":false,"domain":false,"title":null,"orient":"bottom"}},
"y":{"field":"y","type":"quantitative","scale":{"domain":[-0.007,0.964],"nice":false,"zero":false},"axis":{"values":[0.05,0.15,0.25,0.35,0.45,0.55,0.65,0.75,0.85,0.95],"tickSize":6,"labels":false,"domain":false,"title":null,"orient":"left"}},
"x2":{"field":"x2"},"y2":{"field":"y2"}
}},
{"data":{"name":"head1"},
"mark":{"type":"point","shape":"M0,0L-0.33,1L0.33,1Z","size":900,"filled":true,"color":"black","opacity":1,"strokeWidth":0,"angle":0},
"encoding":{
"x":{"field":"x","type":"quantitative","scale":{"domain":[190,400],"nice":false,"zero":false},"axis":null},
"y":{"field":"y","type":"quantitative","scale":{"domain":[-0.007,0.964],"nice":false,"zero":false},"axis":null}
}},
{"data":{"name":"head2"},
"mark":{"type":"point","shape":"M0,0L-0.33,1L0.33,1Z","size":900,"filled":true,"color":"black","opacity":1,"strokeWidth":0,"angle":224},
"encoding":{
"x":{"field":"x","type":"quantitative","scale":{"domain":[190,400],"nice":false,"zero":false},"axis":null},
"y":{"field":"y","type":"quantitative","scale":{"domain":[-0.007,0.964],"nice":false,"zero":false},"axis":null}
}},
{"data":{"name":"labels"},
"mark":{"type":"text","font":"Lato","fontSize":24,"align":"center","baseline":"middle","color":"black"},
"encoding":{
"x":{"field":"x","type":"quantitative","scale":{"domain":[190,400],"nice":false,"zero":false},"axis":null},
"y":{"field":"y","type":"quantitative","scale":{"domain":[-0.007,0.964],"nice":false,"zero":false},"axis":null},
"text":{"field":"t","type":"nominal"}
}}
]
}
